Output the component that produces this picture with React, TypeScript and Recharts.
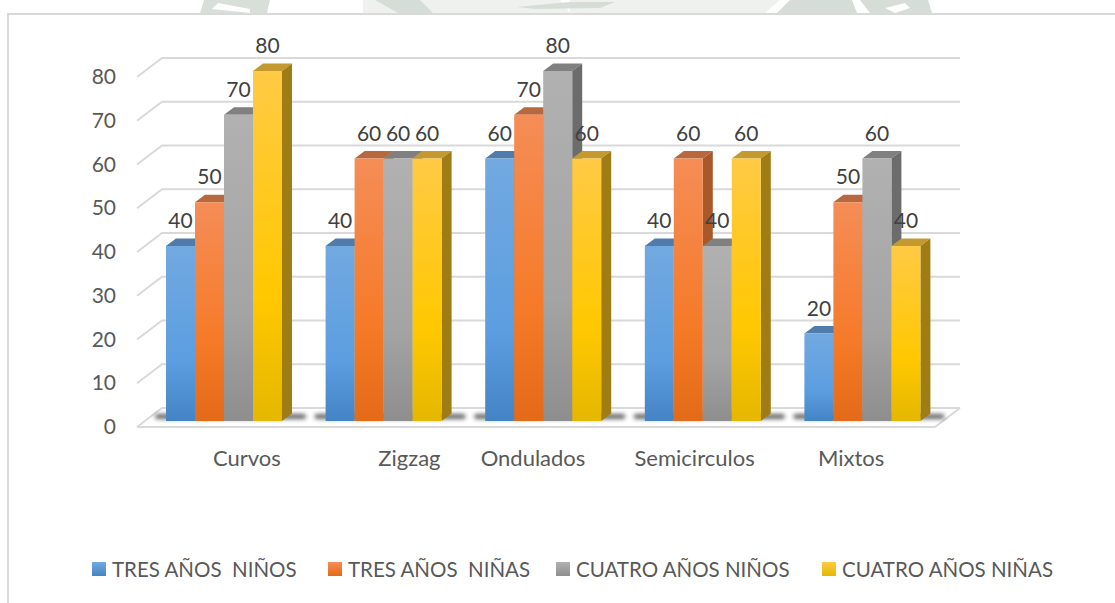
import React from 'react';
import { BarChart, Bar, XAxis, YAxis, CartesianGrid, Legend, LabelList } from 'recharts';

const categories = ['Curvos', 'Zigzag', 'Ondulados', 'Semicirculos', 'Mixtos'];
const tresNinos = [40, 40, 60, 40, 20];
const tresNinas = [50, 60, 70, 60, 50];
const cuatroNinos = [70, 60, 80, 40, 60];
const cuatroNinas = [80, 60, 60, 60, 40];
const yTicks = [0, 10, 20, 30, 40, 50, 60, 70, 80];

const data = categories.map((name, i) => ({
  name,
  tresNinos: tresNinos[i],
  tresNinas: tresNinas[i],
  cuatroNinos: cuatroNinos[i],
  cuatroNinas: cuatroNinas[i],
}));

const series = [
  { key: 'tresNinos', name: 'TRES AÑOS  NIÑOS', grad: ['#72a9e0', '#5c9ee0', '#4484c5'], top: '#4f7cab', side: '#3f6a9a' },
  { key: 'tresNinas', name: 'TRES AÑOS  NIÑAS', grad: ['#f58d57', '#f57a28', '#e36a18'], top: '#b8683e', side: '#a9582a' },
  { key: 'cuatroNinos', name: 'CUATRO AÑOS NIÑOS', grad: ['#b1b1b1', '#a4a4a4', '#8e8e8e'], top: '#808080', side: '#6c6c6c' },
  { key: 'cuatroNinas', name: 'CUATRO AÑOS NIÑAS', grad: ['#ffca45', '#ffc800', '#e5b700'], top: '#c49a30', side: '#a07c14' },
];

// the picture's category labels sit off the band centres
const xLabelNudge = [23, 26, -10, -8, -11];
const legendX = [92, 328, 556, 822];

const DEPTH_X = 10;
const DEPTH_Y = 7.5;
const FONT = 'Lato, sans-serif';
const FONT_SIZE = 20.5;

const Box = (s: any, first: boolean) => (props: any) => {
  const { x, y, width, height } = props;
  const r = x + width;
  const b = y + height;
  return (
    <g>
      {first && (
        <rect x={x - 11} y={b - 7} width={width * 4 + 35} height={5} rx={2.5} fill="#303030" opacity={0.75} filter="url(#floorBlur)" />
      )}
      <polygon points={`${x},${y} ${x + DEPTH_X},${y - DEPTH_Y} ${r + DEPTH_X},${y - DEPTH_Y} ${r},${y}`} fill={s.top} />
      <polygon points={`${r},${y} ${r + DEPTH_X},${y - DEPTH_Y} ${r + DEPTH_X},${b - DEPTH_Y} ${r},${b}`} fill={s.side} />
      <rect x={x} y={y} width={width} height={height} fill={`url(#grad-${s.key})`} />
    </g>
  );
};

const WallLine = (props: any) => {
  const { x1, x2, y1, index } = props;
  const left = x1 - 7;
  const backX = left + 25;
  const right = x2 + 18;
  const isFloor = y1 > 415;
  return (
    <g stroke="#d9d9d9" strokeWidth={2} fill="none" key={index}>
      <polyline points={`${left},${y1 + 6} ${backX},${y1 - 13} ${right},${y1 - 13}`} />
      {isFloor && <polyline points={`${left},${y1 + 6} ${right - 25},${y1 + 6} ${right},${y1 - 13}`} />}
    </g>
  );
};

const CategoryTick = (props: any) => {
  const { x, y, payload, index } = props;
  return (
    <text x={x + xLabelNudge[index]} y={y + 14} textAnchor="middle" fontFamily={FONT} fontSize={22} fill="#595959">
      {payload.value}
    </text>
  );
};

const ValueTick = (props: any) => {
  const { x, y, payload } = props;
  return (
    <text x={x - 28} y={y + 13} textAnchor="end" fontFamily={FONT} fontSize={21} fill="#595959">
      {payload.value}
    </text>
  );
};

const ValueLabel = (props: any) => {
  const { x, y, width, value } = props;
  return (
    <text x={x + width / 2} y={y - 18} textAnchor="middle" fontFamily={FONT} fontSize={21} fill="#404040">
      {value}
    </text>
  );
};

const LegendRow = () => (
  <div style={{ position: 'relative', width: 1115, height: 30, fontFamily: FONT, fontSize: FONT_SIZE, color: '#595959' }}>
    {series.map((s, i) => (
      <div key={s.key} style={{ position: 'absolute', left: legendX[i], top: 0, whiteSpace: 'pre', lineHeight: '24px' }}>
        <span
          style={{
            position: 'absolute',
            left: 0,
            top: 5,
            width: 14,
            height: 14,
            background: `linear-gradient(${s.grad[0]}, ${s.grad[2]})`,
          }}
        />
        <span style={{ marginLeft: 20 }}>{s.name}</span>
      </div>
    ))}
  </div>
);

// faint page watermark showing above the chart's frame
const Watermark = () => (
  <svg width={1115} height={14} style={{ position: 'absolute', left: 0, top: 0 }}>
    <polygon points="204,0 270,0 267,13 200,13" fill="#d8dfd8" />
    <polygon points="218,3 250,9 250,13 212,9" fill="#ffffff" />
    <polygon points="363,0 560,0 570,13 363,13" fill="#eef1ee" />
    <polygon points="375,0 420,0 433,13 398,13" fill="#d6ddd6" />
    <polygon points="570,0 780,0 765,13 570,13" fill="#eef1ee" />
    <polygon points="517,7 570,2 615,2 600,8 535,9" fill="#d6ddd6" />
    <polygon points="790,0 852,0 857,13 777,13" fill="#d6ddd6" />
    <polygon points="860,0 928,0 932,13 870,13" fill="#d6ddd6" />
    <polygon points="885,8 905,3 910,8 895,13" fill="#ffffff" />
  </svg>
);

export default function App() {
  return (
    <div style={{ position: 'absolute', left: 0, top: 0, width: 1115, height: 603, background: '#fff', overflow: 'hidden' }}>
      <Watermark />
      <div style={{ position: 'absolute', left: 7, top: 13, width: 1120, height: 600, border: '2px solid #d9d9d9' }} />
      <BarChart
        width={1115}
        height={603}
        data={data}
        margin={{ top: 71, right: 173, bottom: 122, left: 116 }}
        barCategoryGap={21.75}
        barGap={0}
        style={{ position: 'absolute', left: 0, top: 0 }}
      >
        <defs>
          {series.map((s) => (
            <linearGradient key={s.key} id={`grad-${s.key}`} x1="0" y1="0" x2="0" y2="1">
              <stop offset="0%" stopColor={s.grad[0]} />
              <stop offset="65%" stopColor={s.grad[1]} />
              <stop offset="100%" stopColor={s.grad[2]} />
            </linearGradient>
          ))}
          <filter id="floorBlur" x="-10%" y="-200%" width="120%" height="500%">
            <feGaussianBlur stdDeviation="2" />
          </filter>
        </defs>
        <CartesianGrid vertical={false} horizontal={(p: any) => <WallLine {...p} />} />
        <XAxis dataKey="name" axisLine={false} tickLine={false} tick={<CategoryTick />} tickMargin={25} interval={0} />
        <YAxis width={28} domain={[0, 80]} ticks={yTicks} axisLine={false} tickLine={false} tick={<ValueTick />} tickMargin={0} tickSize={0} interval={0} />
        {series.map((s, i) => (
          <Bar key={s.key} dataKey={s.key} name={s.name} barSize={29} isAnimationActive={false} shape={Box(s, i === 0)}>
            <LabelList dataKey={s.key} content={<ValueLabel />} />
          </Bar>
        ))}
        <Legend content={<LegendRow />} wrapperStyle={{ position: 'absolute', left: 0, top: 557, width: 1115 }} />
      </BarChart>
    </div>
  );
}
